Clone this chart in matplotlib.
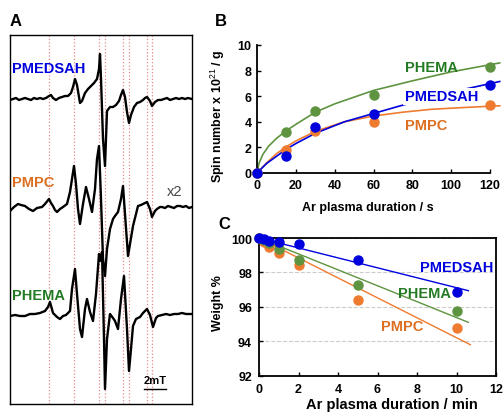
import matplotlib
matplotlib.use('Agg')
import matplotlib.pyplot as plt

plt.rcParams['font.family'] = ['Liberation Sans', 'DejaVu Sans']
plt.rcParams['mathtext.fontset'] = 'custom'
plt.rcParams['mathtext.rm'] = 'Liberation Sans'
plt.rcParams['mathtext.bf'] = 'Liberation Sans:bold'

# ---- panel A: EPR spectra (field in arbitrary units, intensity in arbitrary units)
field_pmedsah = [10, 13, 16, 19, 22, 25, 28, 31, 34, 37, 40, 43, 46, 49, 51, 53, 56, 59, 62, 65,
                 68, 71, 73, 75, 77, 79, 80, 82, 85, 88, 91, 94, 97, 99, 100, 101, 103, 105, 107, 110,
                 113, 116, 119, 121, 123, 125, 127, 129, 131, 134, 137, 140, 143, 145, 147, 150, 152, 155, 158, 161,
                 164, 167, 170, 173, 176, 179, 182, 185, 188, 192]
int_pmedsah = [-1, 0, 1, -1, 0, 1, 0, -1, 1, 0, 1, 0, 1, 3, 4, 1, -1, 1, 2, 3,
               3, 6, 12, 20, 14, 2, -4, -2, 6, 10, 13, 16, 20, 30, 45, 20, -40, -67, -12, -8,
               -8, -6, -2, 4, 9, 2, -13, -24, -16, -8, -4, -3, -1, 1, 2, -2, -7, -3, -1, -1,
               0, 1, -1, 0, 1, 0, 1, 0, 1, 0]

field_pmpc = [10, 14, 18, 21, 25, 29, 33, 37, 42, 45, 49, 51, 53, 55, 57, 60, 63, 67, 70, 72,
              74, 76, 78, 80, 83, 86, 89, 92, 95, 97, 99, 101, 103, 105, 107, 110, 113, 115, 118, 121,
              123, 125, 128, 130, 133, 136, 138, 141, 143, 145, 147, 150, 152, 155, 157, 160, 162, 165, 168, 171,
              174, 177, 180, 183, 186, 189, 192]
int_pmpc = [-2, 2, 5, 4, 3, 0, -2, 1, 2, 5, 10, 6, 3, -1, -3, 0, 2, 5, 17, 30,
            43, 25, 0, -15, 5, 22, 10, -3, 20, 50, 63, 10, -50, -67, -40, -20, -10, -7, -3, 10,
            23, -5, -47, -35, -17, -5, 3, 4, 5, 6, 7, 0, -8, -2, 0, 2, 2, 1, 3, 2,
            1, 3, 3, 2, 3, 1, 2]

field_phema = [10, 15, 20, 25, 30, 35, 40, 45, 48, 50, 53, 57, 60, 63, 66, 70, 72, 75, 77, 80,
               82, 85, 87, 90, 93, 96, 99, 100, 102, 104, 105, 107, 110, 113, 115, 118, 121, 124, 127, 129,
               131, 133, 136, 140, 143, 147, 150, 153, 156, 158, 162, 166, 170, 174, 178, 182, 186, 189, 192]
int_phema = [-1, 0, -1, -1, 1, 1, 2, 4, 8, 13, 2, -2, -4, -1, 0, 4, 26, 46, 21, -14,
             -22, 6, 16, 3, -6, 21, 61, 54, 63, -24, -74, -24, 1, -3, -6, -14, 16, 39, -14, -56,
             -34, -11, -4, -2, 2, 6, 0, -12, -3, -1, 0, 1, 0, 1, 1, 2, 1, 1, 1]

marker_fields = [49, 74, 99, 105, 123, 129, 147, 152]

# ---- panel B: spin number vs plasma duration (s)
t_s = [0, 15, 30, 60, 120]
spin_phema = [0, 3.2, 4.85, 6.1, 8.3]
spin_pmedsah = [0, 1.35, 3.6, 4.6, 6.85]
spin_pmpc = [0, 1.8, 3.3, 4.0, 5.3]

fit_t_phema = [0, 1, 3, 6, 10, 15, 20, 30, 40, 60, 80, 100, 125]
fit_phema = [0, 0.75, 1.45, 2.1, 2.7, 3.3, 3.8, 4.75, 5.4, 6.45, 7.2, 7.9, 8.6]
fit_t = [0, 5, 10, 15, 20, 30, 45, 60, 75, 90, 107, 125]
fit_pmedsah = [0, 0.75, 1.3, 1.85, 2.3, 3.1, 4.0, 4.65, 5.3, 5.9, 6.55, 7.15]
fit_pmpc = [0, 0.8, 1.5, 2.05, 2.5, 3.25, 4.0, 4.45, 4.75, 4.98, 5.12, 5.25]

# ---- panel C: weight vs plasma duration (min)
t_min = [0, 0.25, 0.5, 1, 2, 5, 10]
w_pmedsah = [100, 99.97, 99.85, 99.75, 99.65, 98.75, 96.85]
w_phema = [100, 99.9, 99.7, 99.35, 98.75, 97.25, 95.75]
w_pmpc = [100, 99.75, 99.5, 99.1, 98.45, 96.4, 94.75]

trend_t = [0, 10.6]
trend_pmedsah = [100, 96.94]
trend_phema = [100, 95.1]
trend_t_pmpc = [0, 10.7]
trend_pmpc = [100, 93.8]

blue = '#0000dd'
orange = '#ee7b30'
green = '#5e9440'
green_txt = '#237a23'
orange_txt = '#dd6f22'

fig = plt.figure(figsize=(5.04, 4.14), dpi=100)

# panel A
axA = fig.add_axes([10 / 504, 9 / 414, 182 / 504, 369 / 414])
for xm in marker_fields:
    axA.axvline(xm, color='#e88888', ls=':', lw=0.9, zorder=1)
offsets = [305, 195, 89]
axA.plot(field_pmedsah, [v + offsets[0] for v in int_pmedsah], color='black', lw=1.7, zorder=3)
axA.plot(field_pmpc, [v + offsets[1] for v in int_pmpc], color='black', lw=1.7, zorder=3)
axA.plot(field_phema, [v + offsets[2] for v in int_phema], color='black', lw=1.7, zorder=3)
axA.set_xlim(10, 192)
axA.set_ylim(0, 369)
axA.set_xticks([])
axA.set_yticks([])
for s in axA.spines.values():
    s.set_linewidth(1.0)
axA.text(12, 336, 'PMEDSAH', color=blue, fontsize=10.5, fontweight='bold', va='center')
axA.text(12, 222, 'PMPC', color=orange_txt, fontsize=10.5, fontweight='bold', va='center')
axA.text(12, 109, 'PHEMA', color=green_txt, fontsize=10.5, fontweight='bold', va='center')
axA.text(167, 213, 'x2', color='#444444', fontsize=10.5, va='center')
axA.plot([144, 166], [15, 15], color='black', lw=1.0)
axA.text(155, 24, '2mT', fontsize=8, fontweight='bold', ha='center', va='center')

# panel B
axB = fig.add_axes([257 / 504, 240 / 414, 233 / 504, 128 / 414])
axB.plot(fit_t_phema, fit_phema, color=green, lw=1.2, clip_on=False, zorder=2)
axB.plot(fit_t, fit_pmpc, color=orange, lw=1.2, clip_on=False, zorder=2)
axB.plot(fit_t, fit_pmedsah, color=blue, lw=1.2, clip_on=False, zorder=2)
axB.plot(t_s, spin_phema, 'o', color=green, ms=6.5, clip_on=False, zorder=4)
axB.plot(t_s, spin_pmpc, 'o', color=orange, ms=6.5, clip_on=False, zorder=4)
axB.plot(t_s, spin_pmedsah, 'o', color=blue, ms=6.5, clip_on=False, zorder=5)
axB.set_xlim(0, 120)
axB.set_ylim(0, 10)
axB.set_xticks(range(0, 121, 20))
axB.set_yticks(range(0, 11, 2))
axB.spines['top'].set_visible(False)
axB.spines['right'].set_visible(False)
for s in ('left', 'bottom'):
    axB.spines[s].set_linewidth(1.3)
axB.tick_params(direction='in', length=3, width=1, labelsize=9, pad=4)
for lab in axB.get_xticklabels() + axB.get_yticklabels():
    lab.set_fontweight('bold')
axB.text(76, 8.26, 'PHEMA', color=green_txt, fontsize=10.5, fontweight='bold', va='center', zorder=6)
axB.text(76, 6.0, 'PMEDSAH', color=blue, fontsize=10.5, fontweight='bold', va='center', zorder=6,
         bbox=dict(facecolor='white', edgecolor='none', pad=1))
axB.text(76, 3.74, 'PMPC', color=orange_txt, fontsize=10.5, fontweight='bold', va='center', zorder=6)

# panel C
axC = fig.add_axes([259 / 504, 37.3 / 414, 237 / 504, 137.7 / 414])
axC.yaxis.grid(True, ls='--', color='#cccccc', lw=0.8)
axC.set_axisbelow(True)
axC.plot(trend_t_pmpc, trend_pmpc, color=orange, lw=1.0, zorder=2)
axC.plot(trend_t, trend_phema, color=green, lw=1.0, zorder=2)
axC.plot(trend_t, trend_pmedsah, color=blue, lw=1.0, zorder=2)
axC.plot(t_min, w_pmpc, 'o', color=orange, ms=6.5, clip_on=False, zorder=3)
axC.plot(t_min, w_phema, 'o', color=green, ms=6.5, clip_on=False, zorder=3)
axC.plot(t_min, w_pmedsah, 'o', color=blue, ms=6.5, clip_on=False, zorder=4)
axC.set_xlim(0, 12)
axC.set_ylim(92, 100)
axC.set_xticks(range(0, 13, 2))
axC.set_yticks(range(92, 101, 2))
for s in axC.spines.values():
    s.set_linewidth(1.3)
axC.tick_params(direction='in', length=3, width=1, labelsize=9, pad=5)
for lab in axC.get_xticklabels() + axC.get_yticklabels():
    lab.set_fontweight('bold')
axC.text(8.15, 98.3, 'PMEDSAH', color=blue, fontsize=10.5, fontweight='bold', va='center', zorder=6)
axC.text(7.04, 96.8, 'PHEMA', color=green_txt, fontsize=10.5, fontweight='bold', va='center', zorder=6)
axC.text(6.18, 94.89, 'PMPC', color=orange_txt, fontsize=10.5, fontweight='bold', va='center', zorder=6)

# axis labels and panel letters
fig.text(218 / 504, 1 - 116 / 414, r'Spin number x 10$^{\mathrm{21}}$ / g', rotation=90,
         ha='center', va='center', fontsize=9, fontweight='bold')
fig.text(368 / 504, 1 - 208 / 414, 'Ar plasma duration / s', ha='center', va='center',
         fontsize=9, fontweight='bold')
fig.text(218 / 504, 1 - 303 / 414, 'Weight %', rotation=90, ha='center', va='center',
         fontsize=9, fontweight='bold')
fig.text(392 / 504, 2 / 414, 'Ar plasma duration / min', ha='center', va='bottom',
         fontsize=10.5, fontweight='bold')
fig.text(10 / 504, 1 - 21 / 414, 'A', fontsize=12, fontweight='bold', va='center')
fig.text(215 / 504, 1 - 21 / 414, 'B', fontsize=12, fontweight='bold', va='center')
fig.text(218 / 504, 1 - 225 / 414, 'C', fontsize=12, fontweight='bold', va='center')

fig.savefig('out.png', dpi=100)
